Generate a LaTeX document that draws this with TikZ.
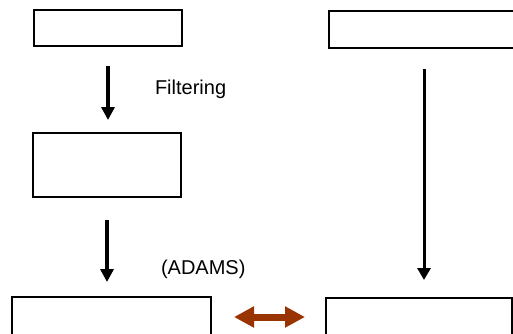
\documentclass[tikz,border=0pt]{standalone}
\usepackage{fontspec}
\setmainfont{Liberation Sans}
\usetikzlibrary{arrows.meta}

\definecolor{rustbrown}{HTML}{993300}

\begin{document}
\begin{tikzpicture}[x=1pt,y=-1pt]
		\clip (0,0) rectangle (513,333);
		\begin{scope}
            [
                every node/.style={
					draw=black, line width=2pt, inner sep=0pt },
				edgetext/.style = {draw=none, font=\fontsize{20}{22}\selectfont}
            ]
            
			\node(a)[minimum width=148pt, minimum height=36pt] at (108,28) {};
			\node(b)[minimum width=148pt, minimum height=64pt] at (107,165) {};
			\node(c)[minimum width=199pt, minimum height=40pt] at (111.5,317) {};
			
			\node(d)[minimum width=190pt, minimum height=37pt] at (424,29.5) {};
			\node(e)[minimum width=186pt, minimum height=40pt] at (419,318) {};
			
			\node(f)[edgetext, anchor=base west] at (154,94) {Filtering};
			\node(g)[edgetext, anchor=base west] at (160,274) {(ADAMS)};

		\end{scope}
		\begin{scope}
            [
                every edge/.style={draw=black},
				thick arrow/.style = {line width=4.5pt, -{Triangle[length=13pt,width=13pt]}},
				thin arrow/.style = {line width=3pt, -{Triangle[length=12pt,width=13pt]}},
				swap arrow/.style = {draw=rustbrown, line width=7pt,
					{Triangle[length=20pt,width=20pt]}-{Triangle[length=20pt,width=20pt]}}
            ]
            \path 
            (a.south) edge[thick arrow, shorten <=19pt, shorten >=12pt] (a.south |- b.north)
            (b.south) edge[thick arrow, shorten <=22pt, shorten >=14pt] (b.south |- c.north)
			(d.south) edge[thin arrow, shorten <=20pt, shorten >=17pt] (d.south |- e.north)
			(c.east) edge[swap arrow, shorten <=22pt, shorten >=20pt] (e.west |- c.east);
		\end{scope}
    \end{tikzpicture}
\end{document}
